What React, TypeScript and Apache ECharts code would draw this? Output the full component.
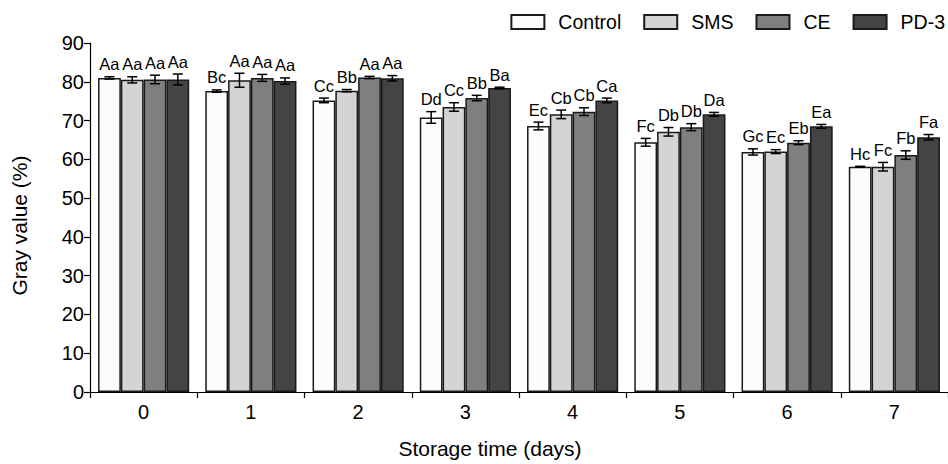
import React, { useEffect, useRef } from "react";
import * as echarts from "echarts";

const categories = ["0", "1", "2", "3", "4", "5", "6", "7"];
const seriesNames = ["Control", "SMS", "CE", "PD-3"];
const colors = ["#fcfcfc", "#d4d4d4", "#7f7f7f", "#444444"];

const controlValues = [81.0, 77.6, 75.2, 70.8, 68.6, 64.4, 61.9, 58.1];
const smsValues = [80.5, 80.4, 77.7, 73.5, 71.6, 67.1, 62.0, 58.1];
const ceValues = [80.6, 81.0, 81.1, 75.8, 72.3, 68.3, 64.3, 61.1];
const pdValues = [80.6, 80.2, 80.9, 78.4, 75.2, 71.6, 68.5, 65.7];

const controlErr = [0.3, 0.3, 0.6, 1.5, 1.0, 1.0, 0.8, 0.1];
const smsErr = [0.8, 1.8, 0.3, 1.1, 1.1, 1.1, 0.5, 1.1];
const ceErr = [1.1, 0.9, 0.3, 0.7, 1.0, 0.9, 0.5, 1.1];
const pdErr = [1.4, 0.8, 0.7, 0.2, 0.6, 0.5, 0.5, 0.7];

const controlLabels = ["Aa", "Bc", "Cc", "Dd", "Ec", "Fc", "Gc", "Hc"];
const smsLabels = ["Aa", "Aa", "Bb", "Cc", "Cb", "Db", "Ec", "Fc"];
const ceLabels = ["Aa", "Aa", "Aa", "Bb", "Cb", "Db", "Eb", "Fb"];
const pdLabels = ["Aa", "Aa", "Aa", "Ba", "Ca", "Da", "Ea", "Fa"];

const yTicks = { min: 0, max: 90, interval: 10 };

const FONT = "'Liberation Sans', Arial, Helvetica, sans-serif";
const GAP = 0.15;

export default function App() {
  const ref = useRef<HTMLDivElement>(null);

  useEffect(() => {
    if (!ref.current) return;
    const chart = echarts.init(ref.current, undefined, { renderer: "svg" });

    const allValues = [controlValues, smsValues, ceValues, pdValues];
    const allErr = [controlErr, smsErr, ceErr, pdErr];
    const allLabels = [controlLabels, smsLabels, ceLabels, pdLabels];

    const errData: number[][] = [];
    const errLabels: string[] = [];
    allValues.forEach((vals, s) => {
      vals.forEach((v, c) => {
        errData.push([c, s, v, allErr[s][c]]);
        errLabels.push(allLabels[s][c]);
      });
    });

    const barSeries = seriesNames.map((name, s) => ({
      name,
      type: "bar",
      data: allValues[s],
      barGap: "0%",
      barCategoryGap: GAP * 100 + "%",
      itemStyle: { color: colors[s], borderColor: "#1a1a1a", borderWidth: 1.5 },
    }));

    const errorSeries = {
      type: "custom",
      name: "err",
      data: errData,
      z: 10,
      encode: { x: 0, y: 2 },
      renderItem: (params: any, api: any) => {
        const c = api.value(0);
        const s = api.value(1);
        const v = api.value(2);
        const e = api.value(3);
        const band = api.size([1, 0])[0];
        const barW = (band * (1 - GAP)) / 4;
        const center = api.coord([c, v]);
        const x = center[0] + (s - 1.5) * barW;
        const top = api.coord([c, v + e])[1];
        const bot = api.coord([c, v - e])[1];
        const cap = barW * 0.22;
        const st = { stroke: "#000", lineWidth: 1.5 };
        return {
          type: "group",
          children: [
            { type: "line", shape: { x1: x, y1: top, x2: x, y2: bot }, style: st },
            { type: "line", shape: { x1: x - cap, y1: top, x2: x + cap, y2: top }, style: st },
            { type: "line", shape: { x1: x - cap, y1: bot, x2: x + cap, y2: bot }, style: st },
            {
              type: "text",
              x: x,
              y: top - 4,
              style: {
                text: errLabels[params.dataIndex],
                align: "center",
                verticalAlign: "bottom",
                textAlign: "center",
                textVerticalAlign: "bottom",
                fontSize: 16.5,
                fontFamily: FONT,
                fill: "#000",
              },
            },
          ],
        };
      },
    };

    chart.setOption({
      animation: false,
      backgroundColor: "#ffffff",
      textStyle: { fontFamily: FONT },
      legend: {
        data: seriesNames,
        right: -2,
        top: 7,
        icon: "rect",
        itemWidth: 33,
        itemHeight: 14,
        itemGap: 22,
        textStyle: { fontSize: 19.5, color: "#000", fontFamily: FONT, padding: [0, 0, 0, 9] },
      },
      grid: { left: 90, right: 0, top: 43, bottom: 71 },
      xAxis: {
        type: "category",
        data: categories,
        name: "Storage time (days)",
        nameLocation: "middle",
        nameGap: 46,
        nameTextStyle: { fontSize: 21, color: "#000", fontFamily: FONT, padding: [0, 58, 0, 0] },
        axisLine: { lineStyle: { color: "#000", width: 1.2 } },
        axisTick: { show: true, length: 6, lineStyle: { color: "#000", width: 1.2 } },
        axisLabel: { fontSize: 20, color: "#000", margin: 10, fontFamily: FONT },
      },
      yAxis: {
        type: "value",
        min: yTicks.min,
        max: yTicks.max,
        interval: yTicks.interval,
        name: "Gray value (%)",
        nameLocation: "middle",
        nameGap: 60,
        nameRotate: 90,
        nameTextStyle: { fontSize: 21, color: "#000", fontFamily: FONT, padding: [0, 16, 0, 0] },
        axisLine: { show: true, lineStyle: { color: "#000", width: 1.2 } },
        axisTick: { show: true, length: 6, lineStyle: { color: "#000", width: 1.2 } },
        axisLabel: { fontSize: 20, color: "#000", margin: 6, fontFamily: FONT },
        splitLine: { show: false },
      },
      series: [...barSeries, errorSeries],
    });

    return () => chart.dispose();
  }, []);

  return (
    <div
      ref={ref}
      style={{ position: "fixed", left: 0, top: 0, width: 948, height: 464, background: "#fff" }}
    />
  );
}
